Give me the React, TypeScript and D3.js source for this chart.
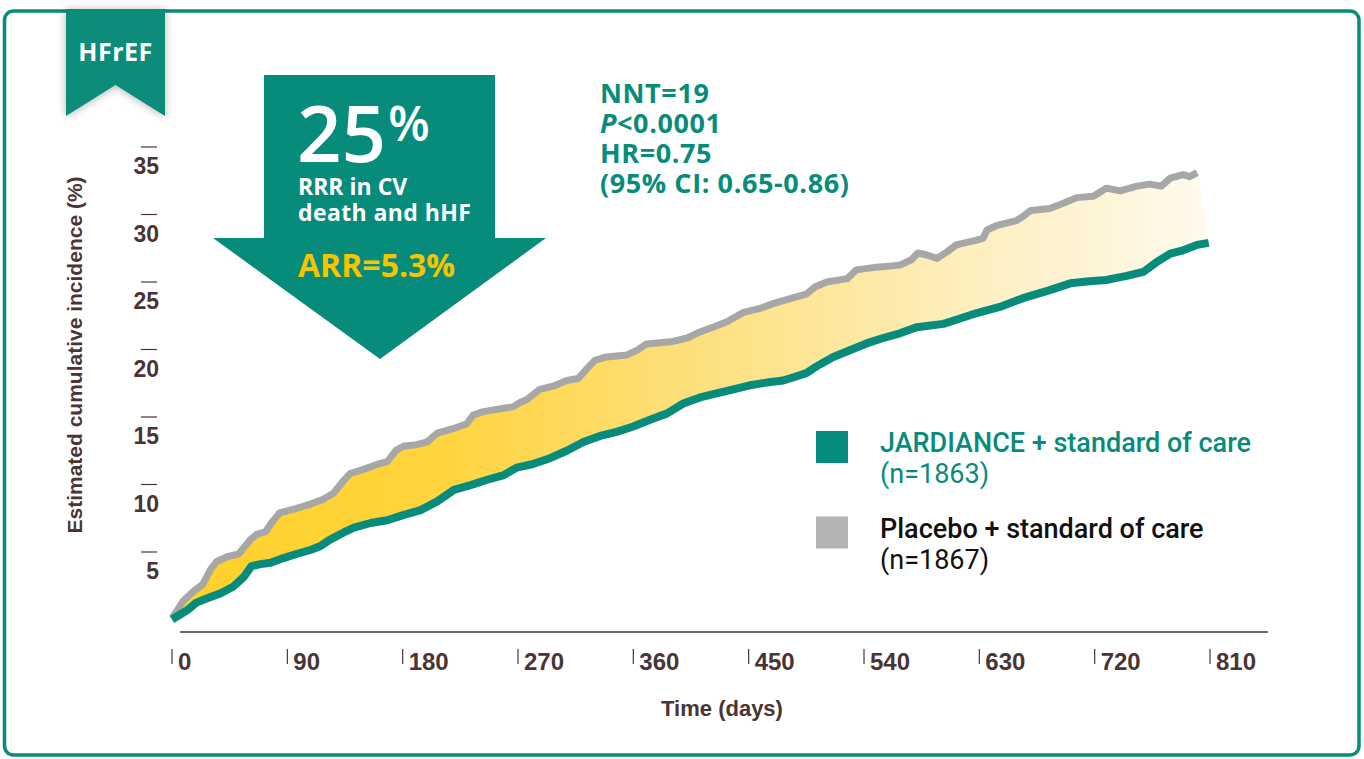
import React from 'react';
import * as d3 from 'd3';

// cumulative incidence (%), [day, pct]
const placeboCurve: [number, number][] = [
  [0, 0.1], [9, 1.4], [17, 2.1], [24, 2.6], [30, 3.7], [35, 4.3], [43, 4.65], [52, 4.85],
  [61, 5.9], [66, 6.3], [73, 6.5], [78, 7.2], [84, 7.9], [96, 8.2], [108, 8.55], [118, 8.9],
  [126, 9.35], [134, 10.3], [139, 10.8], [149, 11.1], [162, 11.55], [168, 11.7], [175, 12.55],
  [181, 12.85], [191, 12.95], [199, 13.15], [207, 13.8], [220, 14.15], [230, 14.5], [235, 15.15],
  [243, 15.4], [259, 15.65], [266, 15.75], [272, 16.1], [277, 16.3], [287, 17.05], [298, 17.3],
  [308, 17.7], [317, 17.85], [324, 18.6], [330, 19.2], [339, 19.45], [355, 19.6], [363, 19.95],
  [370, 20.4], [381, 20.5], [391, 20.6], [402, 20.85], [412, 21.3], [422, 21.65], [433, 22.05],
  [446, 22.75], [459, 23.05], [469, 23.4], [485, 23.85], [495, 24.1], [502, 24.65], [511, 25.0],
  [527, 25.25], [534, 25.9], [550, 26.1], [568, 26.25], [577, 26.65], [582, 27.15], [589, 27.0],
  [597, 26.75], [605, 27.25], [612, 27.75], [628, 28.1], [633, 28.25], [636, 28.85], [644, 29.2],
  [659, 29.55], [664, 29.85], [670, 30.3], [685, 30.45], [696, 30.85], [706, 31.25], [719, 31.35],
  [729, 31.95], [740, 31.75], [753, 32.1], [763, 32.25], [772, 32.1], [779, 32.7], [789, 32.95],
  [794, 32.8], [800, 33.1],
];

const jardianceCurve: [number, number][] = [
  [0, 0], [12, 0.7], [19, 1.25], [27, 1.55], [38, 1.95], [48, 2.45], [56, 3.15], [62, 3.95],
  [69, 4.1], [77, 4.2], [87, 4.55], [97, 4.85], [108, 5.15], [116, 5.45], [123, 5.9], [134, 6.45],
  [142, 6.8], [155, 7.15], [168, 7.35], [181, 7.75], [194, 8.1], [207, 8.75], [220, 9.6],
  [233, 9.95], [246, 10.35], [259, 10.7], [269, 11.25], [281, 11.5], [295, 11.95], [308, 12.5],
  [321, 13.15], [334, 13.6], [347, 13.9], [360, 14.3], [373, 14.8], [386, 15.25], [399, 16.0],
  [412, 16.45], [425, 16.75], [438, 17.05], [451, 17.35], [464, 17.55], [477, 17.7], [485, 17.95],
  [495, 18.25], [503, 18.75], [516, 19.45], [529, 19.95], [542, 20.45], [555, 20.85], [568, 21.2],
  [581, 21.65], [602, 21.9], [612, 22.2], [628, 22.7], [646, 23.15], [664, 23.8], [685, 24.4],
  [701, 24.9], [716, 25.05], [729, 25.15], [745, 25.45], [758, 25.75], [768, 26.45], [779, 27.1],
  [789, 27.35], [800, 27.75], [809, 27.9],
];

const xTicks = [0, 90, 180, 270, 360, 450, 540, 630, 720, 810];
const yTicks = [5, 10, 15, 20, 25, 30, 35];

const legendItems = [
  { name: 'JARDIANCE + standard of care', n: '(n=1863)', color: '#078c7b', text: '#078c7b' },
  { name: 'Placebo + standard of care', n: '(n=1867)', color: '#b4b4b4', text: '#111111' },
];

const TEAL = '#078c7b';
const BROWN = '#4a3434';
const axisFont = '"Liberation Sans", Arial, sans-serif';
const labelFont = 'Roboto, "Noto Sans", sans-serif';
const statFont = '"Open Sans", "Noto Sans", sans-serif';

const App = () => {
  const x = d3.scaleLinear().domain([0, 810]).range([172, 1210]);
  const y = d3.scaleLinear().domain([0, 35]).range([619.5, 147]);

  const line = d3.line<[number, number]>().x(d => x(d[0])).y(d => y(d[1]));
  const band = line([...placeboCurve, ...jardianceCurve.slice().reverse()]) + 'Z';

  return (
    <svg width={1364} height={759} style={{ position: 'absolute', left: 0, top: 0 }}>
      <defs>
        <linearGradient id="gapFill" gradientUnits="userSpaceOnUse" x1={180} x2={1210} y1={0} y2={0}>
          <stop offset="0%" stopColor="#ffd12b" />
          <stop offset="25%" stopColor="#ffd43d" />
          <stop offset="50%" stopColor="#fde07c" />
          <stop offset="75%" stopColor="#fdeebb" />
          <stop offset="100%" stopColor="#fffaee" />
        </linearGradient>
        <filter id="badgeShadow" x="-30%" y="-30%" width="160%" height="160%">
          <feDropShadow dx="0" dy="1" stdDeviation="4" floodColor="#000" floodOpacity="0.3" />
        </filter>
      </defs>

      <rect x={4.5} y={11} width={1354.5} height={744} rx={9} fill="#fff" stroke={TEAL} strokeWidth={3.5} />

      {/* badge */}
      <path d="M66,9 L165,9 L165,116 L115.5,85 L66,116 Z" fill={TEAL} filter="url(#badgeShadow)" />
      <text x={115.5} y={61} textAnchor="middle" fill="#fff" fontFamily={statFont} fontWeight={700}
        fontSize={25} letterSpacing={0.5}>HFrEF</text>

      {/* big arrow */}
      <path d="M264,75 L495,75 L495,238 L546,238 L380,359 L213,238 L264,238 Z" fill={TEAL} />
      <text x={297} y={162} fill="#fff" fontFamily={statFont}>
        <tspan fontSize={78} fontWeight={600}>25</tspan>
        <tspan fontSize={48} fontWeight={600} dx={2} dy={-21}>%</tspan>
      </text>
      <text x={298} y={195} fill="#fff" fontFamily={statFont} fontWeight={700} fontSize={23}>RRR in CV</text>
      <text x={298} y={221} fill="#fff" fontFamily={statFont} fontWeight={700} fontSize={23}
        letterSpacing={0.4}>death and hHF</text>
      <text x={298} y={277} fill="#f7c400" fontFamily={statFont} fontWeight={700} fontSize={32}>ARR=5.3%</text>

      {/* stats */}
      <g fill={TEAL} fontFamily={statFont} fontWeight={700} fontSize={27} letterSpacing={0.6}>
        <text x={600} y={103}>NNT=19</text>
        <text x={600} y={133}><tspan fontStyle="italic">P</tspan>&lt;0.0001</text>
        <text x={600} y={163}>HR=0.75</text>
        <text x={600} y={193}>(95% CI: 0.65-0.86)</text>
      </g>

      {/* curves */}
      <path d={band} fill="url(#gapFill)" />
      <path d={line(placeboCurve) || ''} fill="none" stroke="#a7a7a7" strokeWidth={7} strokeLinejoin="round" />
      <path d={line(jardianceCurve) || ''} fill="none" stroke={TEAL} strokeWidth={8} strokeLinejoin="round" />

      {/* y axis */}
      <g fill={BROWN} fontFamily={axisFont} fontWeight={700} fontSize={23}>
        {yTicks.map(t => (
          <g key={t}>
            <line x1={141} x2={157} y1={y(t)} y2={y(t)} stroke={BROWN} strokeWidth={1.2} />
            <text x={159} y={y(t) + 27} textAnchor="end">{t}</text>
          </g>
        ))}
      </g>
      <text transform="translate(82,355) rotate(-90)" textAnchor="middle" fill={BROWN}
        fontFamily={axisFont} fontWeight={700} fontSize={21}>Estimated cumulative incidence (%)</text>

      {/* x axis */}
      <line x1={180} x2={1268} y1={632} y2={632} stroke={BROWN} strokeWidth={1.5} />
      <g fill={BROWN} fontFamily={axisFont} fontWeight={700} fontSize={24}>
        {xTicks.map(t => (
          <g key={t}>
            <line x1={x(t)} x2={x(t)} y1={649} y2={664} stroke={BROWN} strokeWidth={1.2} />
            <text x={x(t) + 6} y={670}>{t}</text>
          </g>
        ))}
      </g>
      <text x={722} y={716} textAnchor="middle" fill={BROWN} fontFamily={axisFont} fontWeight={700}
        fontSize={22}>Time (days)</text>

      {/* legend */}
      {legendItems.map((it, i) => (
        <g key={it.name} transform={`translate(0,${i * 85.5})`}>
          <rect x={816} y={431} width={32} height={32} fill={it.color} />
          <text x={880} y={452} fill={it.text} fontFamily={labelFont} fontWeight={500} fontSize={27}>{it.name}</text>
          <text x={880} y={483} fill={it.text} fontFamily={labelFont} fontWeight={400} fontSize={27}>{it.n}</text>
        </g>
      ))}
    </svg>
  );
};

export default App;
